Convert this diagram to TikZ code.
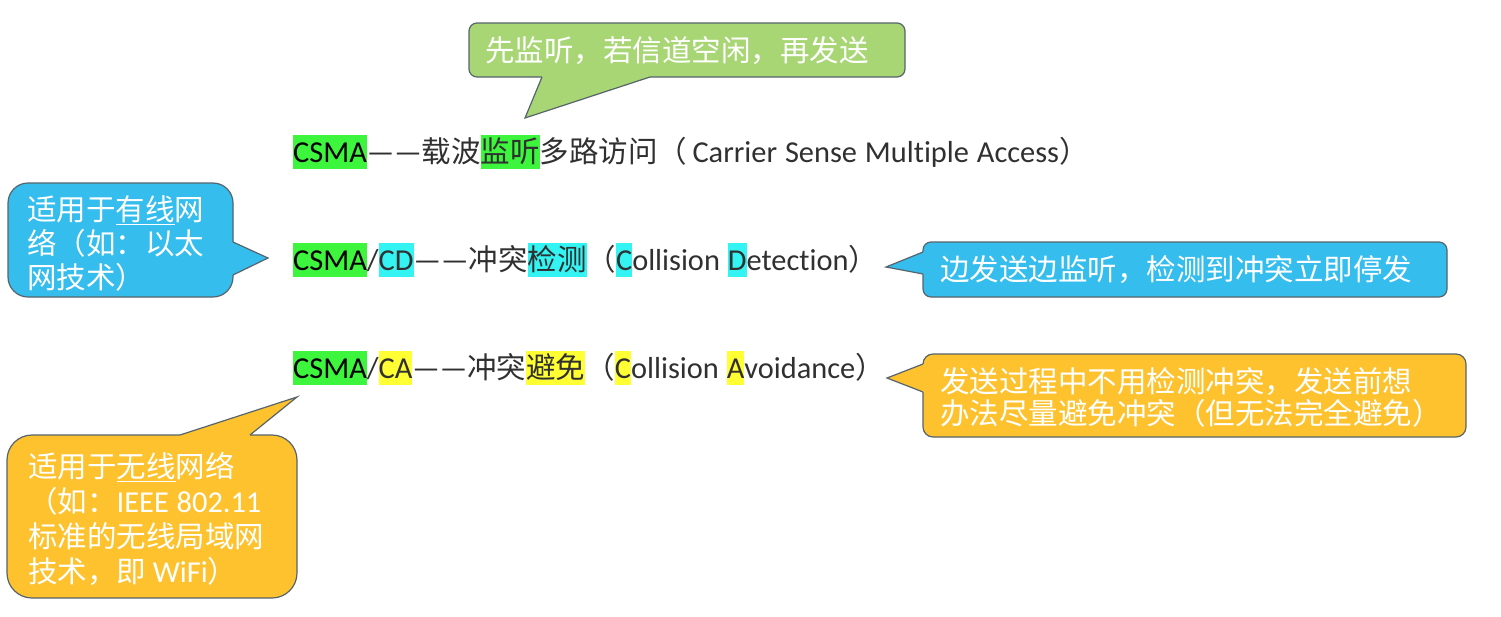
\documentclass[tikz,border=0pt]{standalone}
\usepackage{fontspec}
\setmainfont{Carlito}[Ligatures=NoCommon, WordSpace=1.15, Scale=1.03]
\newfontfamily\cjk{Noto Sans CJK SC}
\usetikzlibrary{calc}
\definecolor{hlgreen}{HTML}{3CF53C}
\definecolor{hlcyan}{HTML}{33F3F3}
\definecolor{hlyellow}{HTML}{FFFF33}
\definecolor{cgreen}{HTML}{A8D674}
\definecolor{cblue}{HTML}{35BDEE}
\definecolor{corange}{HTML}{FDC22E}
\definecolor{bordc}{HTML}{56646C}
\definecolor{maintext}{HTML}{303030}
\newcommand{\hlbox}[2]{{\setlength{\fboxsep}{0pt}\colorbox{#1}{\rule[-7pt]{0pt}{34pt}#2}}}
\tikzset{
  bd/.style={draw=bordc, line width=1.2pt},
  mainline/.style={anchor=base west, inner sep=0pt, text=maintext, font=\fontsize{29.5}{34}\selectfont},
  bubtext/.style={anchor=base west, inner sep=0pt, text=white, font=\fontsize{29.5}{34}\selectfont},
}
\begin{document}
\begin{tikzpicture}[x=1pt,y=-1pt]
\useasboundingbox (0,0) rectangle (1501,616);
\fill[white] (0,0) rectangle (1501,616);

% ---------- main lines ----------
\node[mainline] (l1) at (293,162) {\hlbox{hlgreen}{\color{black}CSMA}——{\cjk 载波}\hlbox{hlgreen}{\cjk 监听}{\cjk 多路访问（}\,Carrier Sense Multiple Access{\cjk ）}};
\node[mainline] (l2) at (293,270) {\hlbox{hlgreen}{\color{black}CSMA}/\hlbox{hlcyan}{CD}——{\cjk 冲突}\hlbox{hlcyan}{\cjk 检测}{\cjk （}\hlbox{hlcyan}{C}ollision \hlbox{hlcyan}{D}etection{\cjk ）}};
\node[mainline] (l3) at (293,378) {\hlbox{hlgreen}{\color{black}CSMA}/\hlbox{hlyellow}{CA}——{\cjk 冲突}\hlbox{hlyellow}{\cjk 避免}{\cjk （}\hlbox{hlyellow}{C}ollision \hlbox{hlyellow}{A}voidance{\cjk ）}};

% ---------- green callout ----------
\draw[bd, fill=cgreen, rounded corners=8pt] (469,23) rectangle (905,77);
\coordinate (ga) at (542,77); \coordinate (gtip) at (525,118); \coordinate (gb) at (650,77);
\fill[cgreen] ($(ga)+(0,-3)$) -- (ga) -- (gtip) -- (gb) -- ($(gb)+(0,-3)$) -- cycle;
\draw[bd] (ga) -- (gtip) -- (gb);
\node[bubtext] (gt) at (485,61) {\cjk 先监听，若信道空闲，再发送};

% ---------- blue left callout ----------
\draw[bd, fill=cblue, rounded corners=20pt] (8,183) rectangle (233,297);
\coordinate (bla) at (233,242); \coordinate (bltip) at (268,258); \coordinate (blb) at (233,275);
\fill[cblue] ($(bla)+(-3,0)$) -- (bla) -- (bltip) -- (blb) -- ($(blb)+(-3,0)$) -- cycle;
\draw[bd] (bla) -- (bltip) -- (blb);
\node[bubtext] (bl1) at (27,220) {\cjk 适用于\underline{有线}网};
\node[bubtext] (bl2) at (27,254) {\cjk 络（如：以太};
\node[bubtext] (bl3) at (27,288) {\cjk 网技术）};

% ---------- blue right callout ----------
\draw[bd, fill=cblue, rounded corners=8pt] (923,242) rectangle (1447,297);
\coordinate (bra) at (923,252); \coordinate (brtip) at (886,267); \coordinate (brb) at (923,274);
\fill[cblue] ($(bra)+(3,0)$) -- (bra) -- (brtip) -- (brb) -- ($(brb)+(3,0)$) -- cycle;
\draw[bd] (bra) -- (brtip) -- (brb);
\node[bubtext] (brt) at (940,280) {\cjk 边发送边监听，检测到冲突立即停发};

% ---------- orange right callout ----------
\draw[bd, fill=corange, rounded corners=10pt] (923,354) rectangle (1466,437);
\coordinate (ora) at (923,364); \coordinate (ortip) at (887,378); \coordinate (orb) at (923,392);
\fill[corange] ($(ora)+(3,0)$) -- (ora) -- (ortip) -- (orb) -- ($(orb)+(3,0)$) -- cycle;
\draw[bd] (ora) -- (ortip) -- (orb);
\node[bubtext] (or1) at (940,392) {\cjk 发送过程中不用检测冲突，发送前想};
\node[bubtext] (or2) at (940,424) {\cjk 办法尽量避免冲突（但无法完全避免）};

% ---------- orange left callout ----------
\draw[bd, fill=corange, rounded corners=25pt] (7,435) rectangle (297,598);
\coordinate (ola) at (180,435); \coordinate (oltip) at (297,397); \coordinate (olb) at (250,435);
\fill[corange] ($(ola)+(0,3)$) -- (ola) -- (oltip) -- (olb) -- ($(olb)+(0,3)$) -- cycle;
\draw[bd] (ola) -- (oltip) -- (olb);
\node[bubtext] (ol1) at (28,477) {\cjk 适用于\underline{无线}网络};
\node[bubtext] (ol2) at (28,512) {{\cjk （如：}IEEE 802.11};
\node[bubtext] (ol3) at (28,547) {\cjk 标准的无线局域网};
\node[bubtext] (ol4) at (28,582) {{\cjk 技术，即 }WiFi{\cjk ）}};
\end{tikzpicture}
\end{document}
